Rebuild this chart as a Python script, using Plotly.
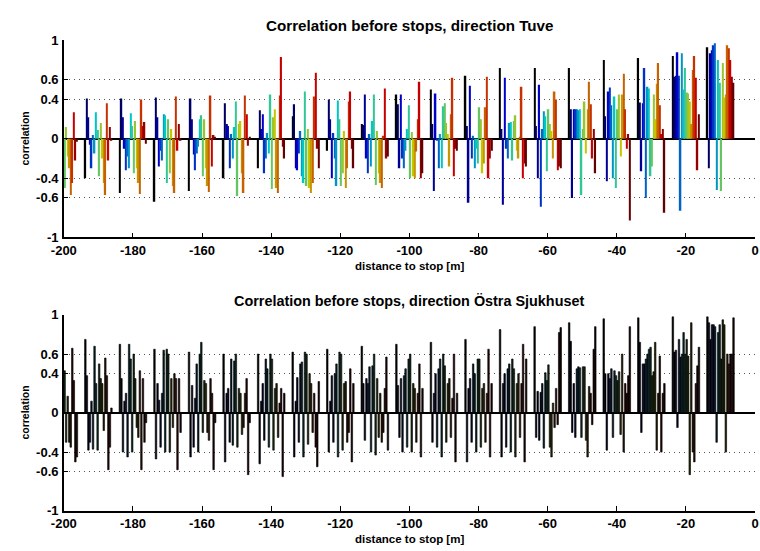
import plotly.graph_objects as go

# group centres (distance to stop, m)
group_x = [-200, -190, -180, -170, -160, -150, -140, -130, -120, -110,
           -100, -90, -80, -70, -60, -50, -40, -30, -20, -10]

y_ticks = [-1, -0.6, -0.4, 0, 0.4, 0.6, 1]
y_ticklabels = ["-1", "-0.6", "-0.4", "0", "0.4", "0.6", "1"]
x_ticks = [-200, -180, -160, -140, -120, -100, -80, -60, -40, -20, 0]
x_ticklabels = ["-200", "-180", "-160", "-140", "-120", "-100", "-80", "-60", "-40", "-20", "0"]

title_top = "Correlation before stops, direction Tuve"
title_bottom = "Correlation before stops, direction Östra Sjukhuset"
x_label = "distance to stop [m]"
y_label = "correlation"

# correlation values, one list per group (18 bars each)
tuve_corr = [
    [None] * 9 + [-0.50, 0.12, -0.18, -0.30, -0.57, -0.45, 0.27, -0.22, -0.03],
    [-0.40, 0.41, 0.22, -0.06, -0.30, 0.04, -0.15, 0.27, 0.09, -0.38, 0.16, -0.20, -0.45, -0.57, 0.36, -0.22, 0.12, -0.02],
    [-0.55, 0.41, 0.22, -0.10, -0.32, -0.18, -0.30, 0.26, 0.13, -0.35, 0.18, -0.30, -0.45, -0.56, 0.40, 0.13, 0.17, -0.05],
    [-0.64, 0.42, 0.22, -0.28, -0.12, -0.22, 0.25, 0.24, -0.45, 0.20, -0.35, 0.10, -0.48, -0.55, 0.43, -0.12, 0.15, -0.02],
    [-0.53, 0.41, 0.20, -0.16, -0.32, -0.15, -0.08, 0.20, 0.24, -0.38, 0.20, -0.30, -0.48, -0.54, 0.44, -0.28, 0.04, 0.02],
    [-0.40, 0.36, 0.15, 0.13, -0.30, 0.05, -0.20, 0.12, 0.38, -0.58, 0.15, 0.18, -0.35, -0.55, 0.44, 0.25, -0.07, 0.02],
    [-0.30, 0.29, 0.10, 0.25, -0.35, -0.20, 0.06, -0.15, 0.45, -0.51, 0.22, 0.30, -0.50, -0.55, 0.44, 0.83, -0.08, -0.20],
    [0.23, 0.35, -0.30, -0.32, -0.15, 0.08, -0.38, -0.45, 0.48, -0.48, 0.10, -0.50, -0.55, -0.45, 0.43, 0.67, -0.10, -0.30],
    [-0.12, 0.40, 0.20, -0.40, 0.06, -0.20, -0.48, 0.39, 0.20, -0.48, -0.35, 0.08, -0.50, -0.30, 0.38, 0.48, -0.10, -0.30],
    [0.15, 0.14, 0.45, -0.20, -0.35, 0.05, -0.28, 0.18, 0.45, -0.47, 0.08, -0.35, -0.45, -0.50, 0.03, 0.51, -0.20, -0.18],
    [0.45, 0.35, -0.30, 0.45, -0.20, -0.30, -0.12, 0.10, 0.34, -0.40, 0.07, -0.38, -0.40, -0.13, 0.20, 0.58, -0.40, -0.35],
    [0.50, 0.15, -0.53, 0.46, -0.02, -0.30, 0.05, -0.30, 0.33, 0.36, 0.16, 0.05, -0.28, 0.25, 0.62, -0.38, -0.10, -0.12],
    [0.64, 0.13, -0.65, 0.54, -0.20, 0.03, -0.30, -0.10, -0.25, 0.32, 0.20, -0.35, -0.25, 0.32, 0.63, -0.40, -0.20, -0.12],
    [0.72, 0.10, -0.67, 0.62, -0.10, -0.20, 0.16, 0.17, -0.22, 0.18, 0.24, -0.12, -0.20, 0.02, 0.53, -0.40, -0.25, -0.28],
    [0.72, 0.13, -0.40, 0.55, -0.69, 0.10, 0.28, 0.23, -0.33, 0.30, 0.15, 0.08, -0.20, 0.48, 0.40, -0.32, -0.28, -0.30],
    [0.72, 0.30, -0.60, 0.30, 0.30, 0.30, 0.29, 0.30, -0.57, 0.10, 0.38, -0.15, 0.30, 0.58, 0.35, -0.20, 0.10, -0.35],
    [0.80, 0.23, -0.43, 0.48, 0.52, 0.34, -0.40, 0.43, -0.50, 0.30, 0.45, -0.18, 0.45, 0.66, 0.30, -0.10, 0.05, -0.83],
    [0.82, 0.37, -0.33, 0.36, 0.72, -0.60, 0.53, 0.51, -0.38, -0.28, 0.45, 0.20, 0.56, 0.77, 0.34, 0.05, 0.10, -0.75],
    [0.84, 0.63, 0.64, 0.88, 0.64, -0.73, 0.87, 0.50, 0.72, 0.47, 0.46, 0.38, 0.15, 0.70, 0.84, 0.62, -0.32, 0.25],
    [0.93, -0.30, 0.87, 0.90, 0.95, 0.97, -0.52, 0.80, 0.57, -0.53, 0.77, 0.42, 0.45, 0.95, 0.92, 0.80, 0.63, 0.57],
]

ostra_corr = [
    [None] * 9 + [0.43, -0.30, 0.17, -0.30, -0.35, 0.66, 0.33, -0.50, -0.45],
    [0.75, 0.38, -0.38, -0.30, 0.12, -0.37, 0.68, 0.30, -0.38, 0.50, 0.35, 0.30, -0.18, 0.56, 0.38, -0.58, -0.35, 0.05],
    [0.70, 0.35, -0.40, 0.12, 0.20, -0.45, 0.70, 0.55, -0.40, 0.60, 0.35, -0.15, -0.25, 0.43, -0.58, 0.35, -0.30, -0.10],
    [0.65, -0.47, 0.30, 0.13, -0.35, 0.20, 0.64, -0.40, 0.65, 0.60, -0.40, 0.35, -0.15, 0.40, 0.35, -0.58, 0.35, -0.20],
    [0.62, -0.45, 0.28, -0.35, 0.15, 0.50, -0.40, 0.60, 0.72, -0.20, 0.33, 0.30, -0.20, -0.28, 0.35, 0.20, -0.58, -0.10],
    [0.60, -0.50, 0.20, 0.25, -0.30, 0.55, -0.33, 0.53, 0.60, -0.35, 0.25, 0.20, -0.22, -0.15, 0.20, 0.35, -0.63, -0.10],
    [0.60, -0.52, 0.12, 0.30, -0.28, 0.55, 0.45, -0.35, 0.60, 0.55, -0.38, 0.25, 0.30, -0.25, 0.10, 0.25, -0.65, 0.20],
    [0.62, -0.45, 0.12, 0.36, -0.30, 0.50, 0.52, -0.45, 0.62, 0.60, -0.32, 0.40, 0.30, -0.20, 0.20, -0.35, -0.55, 0.32],
    [0.65, -0.40, 0.12, 0.38, -0.30, 0.40, 0.50, -0.45, 0.62, 0.60, -0.38, 0.30, 0.32, -0.30, -0.20, 0.45, -0.50, 0.30],
    [0.68, 0.30, -0.28, 0.35, 0.30, 0.47, -0.40, 0.48, 0.60, -0.43, 0.35, -0.25, 0.20, -0.30, -0.20, 0.25, 0.57, -0.38],
    [0.70, 0.28, -0.25, 0.35, -0.40, 0.38, 0.45, -0.35, 0.55, 0.60, -0.40, 0.30, 0.25, -0.30, 0.20, 0.50, -0.45, 0.25],
    [0.72, -0.30, 0.20, 0.40, -0.35, 0.45, 0.55, -0.45, 0.60, 0.48, -0.30, 0.30, 0.35, -0.25, 0.15, 0.60, -0.50, 0.20],
    [0.75, -0.50, 0.25, 0.35, -0.30, 0.50, 0.40, -0.40, 0.55, 0.55, -0.35, 0.25, 0.30, -0.30, 0.20, 0.65, -0.45, 0.30],
    [0.85, -0.45, 0.30, 0.40, -0.35, 0.45, 0.50, -0.40, 0.55, 0.45, -0.45, 0.30, 0.40, -0.25, 0.30, 0.70, -0.50, 0.55],
    [0.88, -0.25, 0.22, -0.28, 0.21, 0.30, -0.36, 0.41, 0.33, 0.49, -0.35, -0.45, 0.10, -0.15, 0.25, -0.12, 0.82, 0.87],
    [0.92, 0.73, -0.20, 0.30, -0.25, 0.45, 0.47, 0.46, -0.25, 0.47, 0.47, -0.28, -0.45, 0.27, 0.20, -0.12, 0.65, 0.88],
    [0.96, 0.40, -0.38, 0.40, 0.35, 0.45, -0.25, 0.43, 0.38, 0.33, 0.42, -0.22, 0.60, -0.40, 0.30, 0.20, 0.38, 0.88],
    [0.97, 0.72, -0.20, 0.50, 0.50, 0.55, 0.60, 0.65, 0.67, 0.38, 0.42, 0.72, -0.38, 0.20, 0.58, -0.40, 0.20, 0.30],
    [0.98, 0.62, 0.64, -0.15, 0.75, 0.57, 0.60, 0.82, 0.60, 0.75, 0.58, -0.63, 0.92, -0.40, -0.50, 0.30, 0.48, 0.67],
    [0.98, 0.92, 0.75, 0.90, 0.90, 0.88, -0.30, 0.82, 0.90, 0.55, 0.95, 0.90, -0.40, 0.60, 0.50, 0.60, 0.60, 0.97],
]

N_SERIES = 18
FONT = "Liberation Sans, Arial, Helvetica, sans-serif"


def jet(t):
    def c(v):
        return max(0.0, min(1.0, v))
    r = c(1.5 - abs(4 * t - 3))
    g = c(1.5 - abs(4 * t - 2))
    b = c(1.5 - abs(4 * t - 1))
    return r, g, b


def series_color(k, dark=1.0):
    if k == 0:
        return "rgb(0,0,0)"
    r, g, b = jet((k - 1) / (N_SERIES - 2))
    return "rgb(%d,%d,%d)" % (r * 255 * dark, g * 255 * dark, b * 255 * dark)


W, H = 760, 551
x0, x1 = 52, 759
top_y = (34.3, 236.7)
bot_y = (316.5, 518.0)


def ydom(px):
    return [1 - px[1] / H, 1 - px[0] / H]


fig = go.Figure()
for k in range(N_SERIES):
    fig.add_trace(go.Bar(
        x=group_x, y=[grp[k] for grp in tuve_corr],
        marker=dict(color=series_color(k, 0.78), line=dict(width=0)),
        xaxis="x", yaxis="y", offsetgroup=str(k), showlegend=False))
for k in range(N_SERIES):
    fig.add_trace(go.Bar(
        x=group_x, y=[grp[k] for grp in ostra_corr],
        marker=dict(color=series_color(k, 0.15), line=dict(color="black", width=0.6)),
        xaxis="x2", yaxis="y2", offsetgroup=str(k), showlegend=False))

font_tick = dict(family=FONT, size=13, color="black")
bold = lambda lst: ["<b>%s</b>" % s for s in lst]
xax = dict(range=[-200, 0], tickvals=x_ticks, ticktext=bold(x_ticklabels), ticks="inside",
           ticklen=5, tickwidth=1, tickcolor="black", showline=True, linecolor="black",
           linewidth=1.5, showgrid=False, zeroline=False, tickfont=font_tick,
           ticklabelstandoff=0, ticklabeloverflow="allow",
           domain=[x0 / W, x1 / W], fixedrange=True)
yax = dict(range=[-1, 1], tickvals=y_ticks, ticktext=bold(y_ticklabels), ticks="inside",
           ticklen=4, tickwidth=1, tickcolor="black", showline=True, linecolor="black",
           linewidth=1.5, showgrid=True, gridcolor="#555", griddash="1px,4px", gridwidth=1,
           zeroline=True, zerolinecolor="black", zerolinewidth=2, tickfont=font_tick,
           ticklabelstandoff=1)

fig.update_layout(
    width=W, height=H, margin=dict(l=0, r=0, t=0, b=0),
    paper_bgcolor="white", plot_bgcolor="white",
    barmode="group", bargap=0.2, bargroupgap=0,
    xaxis=dict(xax, anchor="y"),
    yaxis=dict(yax, domain=ydom(top_y), anchor="x"),
    xaxis2=dict(xax, anchor="y2"),
    yaxis2=dict(yax, domain=ydom(bot_y), anchor="x2"),
    font=dict(family=FONT, color="black"),
)

ann = []
cx = (x0 + x1) / 2 / W
for title, ypx, fs in [(title_top, 19, 15.2), (title_bottom, 302, 14.4)]:
    ann.append(dict(text="<b>%s</b>" % title, x=cx, y=1 - ypx / H, xref="paper", yref="paper",
                    showarrow=False, xanchor="center", yanchor="middle",
                    font=dict(size=fs, family=FONT)))
for ypx in [266, 546.5]:
    ann.append(dict(text="<b>%s</b>" % x_label, x=cx, y=1 - ypx / H, xref="paper", yref="paper",
                    showarrow=False, xanchor="center", yanchor="middle", borderpad=0,
                    font=dict(size=11.5, family=FONT)))
for ypx in [(top_y[0] + top_y[1]) / 2, (bot_y[0] + bot_y[1]) / 2]:
    ann.append(dict(text="<b>%s</b>" % y_label, x=12 / W, y=1 - ypx / H, xref="paper", yref="paper",
                    showarrow=False, xanchor="center", yanchor="middle", textangle=-90,
                    font=dict(size=10.5, family=FONT)))
fig.update_layout(annotations=ann)

fig.write_html("out.html")
